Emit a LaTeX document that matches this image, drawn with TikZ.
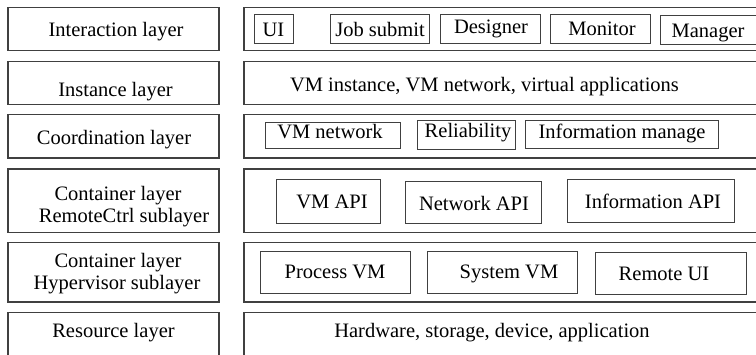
\documentclass[tikz,border=0pt]{standalone}
\usepackage{fontspec}
\setmainfont{Liberation Serif}
\begin{document}
\begin{tikzpicture}[x=1pt,y=-1pt,
  layerbox/.style={draw=black!75, line width=1.2pt, rectangle, inner sep=0pt, outer sep=0pt},
  itembox/.style={draw=black!75, line width=1pt, rectangle, inner sep=0pt, outer sep=0pt},
  lbl/.style={anchor=base, inner sep=0pt, font=\fontsize{20.5}{24}\selectfont}]
\useasboundingbox (0,0) rectangle (756,354);
\clip (0,0) rectangle (756,354);
% left layer boxes
\node[layerbox, minimum width=211pt, minimum height=43pt] (L1) at (113.5,29) {};
\node[layerbox, minimum width=211pt, minimum height=43pt] (L2) at (113.5,83) {};
\node[layerbox, minimum width=211pt, minimum height=43.5pt] (L3) at (113.5,136.25) {};
\node[layerbox, minimum width=211pt, minimum height=63.5pt] (L4) at (113.5,200.75) {};
\node[layerbox, minimum width=211pt, minimum height=59.5pt] (L5) at (113.5,272.25) {};
\node[layerbox, minimum width=211pt, minimum height=52.5pt] (L6) at (113.5,338.75) {};
% right layer boxes
\node[layerbox, minimum width=516pt, minimum height=43pt] (R1) at (502,29) {};
\node[layerbox, minimum width=516pt, minimum height=43pt] (R2) at (502,83) {};
\node[layerbox, minimum width=516pt, minimum height=43.5pt] (R3) at (502,136.25) {};
\node[layerbox, minimum width=516pt, minimum height=63.5pt] (R4) at (502,200.75) {};
\node[layerbox, minimum width=516pt, minimum height=59.5pt] (R5) at (502,272.25) {};
\node[layerbox, minimum width=516pt, minimum height=52.5pt] (R6) at (502,338.75) {};
% left labels
\node[lbl] (t1) at (116,36) {Interaction layer};
\node[lbl] (t2) at (115.5,96) {Instance layer};
\node[lbl] (t3) at (114,144) {Coordination layer};
\node[lbl] (t4a) at (118,200) {Container layer};
\node[lbl] (t4b) at (124,222) {RemoteCtrl sublayer};
\node[lbl] (t5a) at (118,267) {Container layer};
\node[lbl] (t5b) at (117,289) {Hypervisor sublayer};
\node[lbl] (t6) at (113.5,337) {Resource layer};
% interaction items
\node[itembox, minimum width=39pt, minimum height=29pt] (ui) at (273.5,28.5) {};
\node[itembox, minimum width=99pt, minimum height=29pt] (job) at (379.5,28.5) {};
\node[itembox, minimum width=100pt, minimum height=29pt] (des) at (490,28.5) {};
\node[itembox, minimum width=100pt, minimum height=29pt] (mon) at (600,28.5) {};
\node[itembox, minimum width=110pt, minimum height=29pt] (man) at (715,29.5) {};
\node[lbl] at (273.5,36) {UI};
\node[lbl] at (380,36) {Job submit};
\node[lbl] at (491,33.5) {Designer};
\node[lbl] at (602,35) {Monitor};
\node[lbl] at (708,37) {Manager};
% instance
\node[lbl] at (484.5,91) {VM instance, VM network, virtual applications};
% coordination items
\node[itembox, minimum width=135pt, minimum height=26pt] (vmn) at (332.5,135) {};
\node[itembox, minimum width=98pt, minimum height=29pt] (rel) at (466,134.5) {};
\node[itembox, minimum width=193pt, minimum height=28pt] (inm) at (621.5,134) {};
\node[lbl] at (330,138) {VM network};
\node[lbl] at (468,137) {Reliability};
\node[lbl] at (622,138) {Information manage};
% remotectrl items
\node[itembox, minimum width=104pt, minimum height=44pt] (vmapi) at (328,201) {};
\node[itembox, minimum width=136pt, minimum height=42pt] (netapi) at (473,202) {};
\node[itembox, minimum width=167pt, minimum height=43pt] (infapi) at (650.5,200.5) {};
\node[lbl] at (332,208) {VM API};
\node[lbl] at (474,210) {Network API};
\node[lbl] at (653,208) {Information API};
% hypervisor items
\node[itembox, minimum width=150pt, minimum height=42pt] (pvm) at (335,272) {};
\node[itembox, minimum width=150pt, minimum height=42pt] (svm) at (502,272) {};
\node[itembox, minimum width=151pt, minimum height=42pt] (rui) at (670.5,273) {};
\node[lbl] at (335,278) {Process VM};
\node[lbl] at (509,278) {System VM};
\node[lbl] at (664,280) {Remote UI};
% resource
\node[lbl] at (492,337) {Hardware, storage, device, application};
\end{tikzpicture}
\end{document}
